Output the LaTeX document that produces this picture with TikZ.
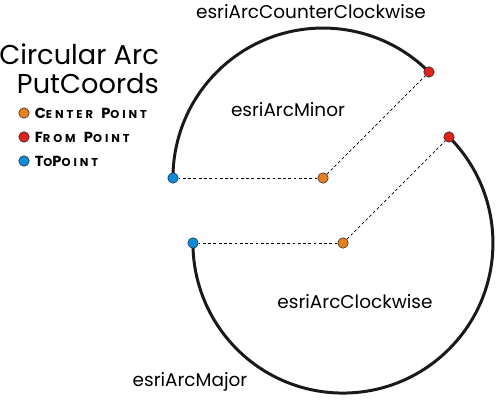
\documentclass[tikz,border=0pt]{standalone}
\usepackage{fontspec}
\setmainfont{Poppins}
\usetikzlibrary{positioning}
\definecolor{ptorange}{RGB}{232,128,32}
\definecolor{ptred}{RGB}{222,34,30}
\definecolor{ptblue}{RGB}{10,140,220}
\newcommand{\fakesc}[2]{{\fontsize{8.3}{9}\selectfont #1}{\fontsize{6.5}{7}\selectfont #2}}
\tikzset{
  pt/.style={circle, draw=black!85, line width=0.3pt, inner sep=0pt, minimum size=0.21cm},
  arcline/.style={line width=1.7pt, color=black!90},
  radius line/.style={line width=0.4pt, dash pattern=on 1.6pt off 1.4pt},
  lbl/.style={font=\fontsize{10.5}{12}\selectfont},
  keytext/.style={font=\bfseries\addfontfeature{LetterSpace=26}, inner sep=0pt}
}
\begin{document}
\begin{tikzpicture}
		%%%%% START %%%%%
		\useasboundingbox (0,0) rectangle (10,8);
		
		% title and legend
		\node[align=right, anchor=east, font=\fontsize{15.5}{16.5}\selectfont] (title) at (3.3,6.62) {Circular Arc\\PutCoords};
		\node[pt, fill=ptorange] (kcenter) at (0.48,5.74) {};
		\node[pt, fill=ptred] (kfrom) at (0.48,5.26) {};
		\node[pt, fill=ptblue] (kto) at (0.48,4.78) {};
		\node[keytext, right=0.1cm of kcenter] {\fakesc{C}{ENTER} \fakesc{P}{OINT}};
		\node[keytext, right=0.1cm of kfrom] {\fakesc{F}{ROM} \fakesc{P}{OINT}};
		\node[keytext, right=0.1cm of kto] {\fakesc{T}{O}\fakesc{P}{OINT}};
		
		% counter clockwise arc
		\coordinate (ccwc) at (6.46,4.44);
		\coordinate (ccwf) at (8.58,6.56);
		\draw[arcline] (ccwf) arc (45:180:3);
		\node[pt, fill=ptorange] (center1) at (ccwc) {};
		\node[pt, fill=ptred] (from1) at (ccwf) {};
		\node[pt, fill=ptblue] (to1) at (3.46,4.44) {};
		\draw[radius line] (center1) -- (from1);
		\draw[radius line] (center1) -- (to1);
		
		% clockwise arc
		\coordinate (cwc) at (6.86,3.14);
		\coordinate (cwf) at (8.98,5.26);
		\draw[arcline] (cwf) arc (45:-180:3);
		\node[pt, fill=ptorange] (center2) at (cwc) {};
		\node[pt, fill=ptred] (from2) at (cwf) {};
		\node[pt, fill=ptblue] (to2) at (3.86,3.14) {};
		\draw[radius line] (center2) -- (from2);
		\draw[radius line] (center2) -- (to2);
		
		% arc labels
		\node[lbl] (ccwlabel) at (6.22,7.76) {esriArcCounterClockwise};
		\node[lbl] (minorlabel) at (5.76,5.8) {esriArcMinor};
		\node[lbl] (cwlabel) at (7.1,1.96) {esriArcClockwise};
		\node[lbl] (majorlabel) at (3.8,0.36) {esriArcMajor};
		
		%%%%% END %%%%%
	\end{tikzpicture}
\end{document}
